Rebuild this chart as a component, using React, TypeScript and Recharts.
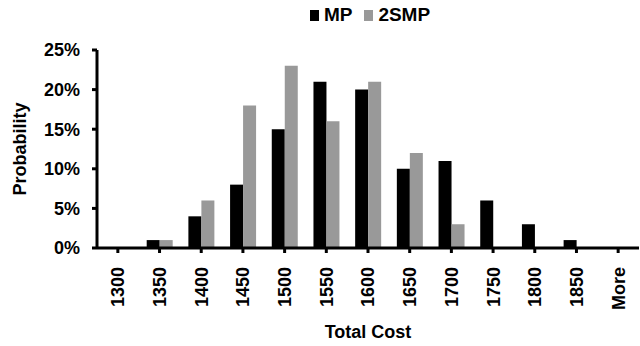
import React from "react";
import { BarChart, Bar, XAxis, YAxis, Legend } from "recharts";

const categories = ["1300", "1350", "1400", "1450", "1500", "1550", "1600", "1650", "1700", "1750", "1800", "1850", "More"];
const mpValues = [0, 0.01, 0.04, 0.08, 0.15, 0.21, 0.2, 0.1, 0.11, 0.06, 0.03, 0.01, 0];
const smpValues = [0, 0.01, 0.06, 0.18, 0.23, 0.16, 0.21, 0.12, 0.03, 0, 0, 0, 0];
const yTicks = [0, 0.05, 0.1, 0.15, 0.2, 0.25];
const seriesNames = ["MP", "2SMP"];
const seriesColors = ["#000", "#999"];

const data = categories.map((c, i) => ({ cat: c, MP: mpValues[i], "2SMP": smpValues[i] }));

const FONT = "'Liberation Sans', Arial, sans-serif";

const XTick = (props: any) => {
  const { x, y, payload } = props;
  return (
    <text
      x={x}
      y={y + 12}
      transform={`rotate(-90, ${x}, ${y + 12})`}
      textAnchor="end"
      dy="0.36em"
      fontFamily={FONT}
      fontWeight="bold"
      fontSize={18}
      fill="#000"
    >
      {payload.value}
    </text>
  );
};

const LegendContent = () => (
  <div style={{ display: "flex", justifyContent: "center", alignItems: "center", fontFamily: FONT, fontWeight: "bold", fontSize: 19, height: 22 }}>
    {seriesNames.map((n, i) => (
      <span key={n} style={{ display: "inline-flex", alignItems: "center", marginRight: i === 0 ? 12 : 0 }}>
        <span style={{ display: "inline-block", width: 9, height: 11, background: seriesColors[i], marginRight: 5 }} />
        <span>{n}</span>
      </span>
    ))}
  </div>
);

export default function App() {
  return (
    <div style={{ position: "absolute", left: 0, top: 0, background: "#fff" }}>
      <BarChart
        width={640}
        height={346}
        data={data}
        margin={{ top: 28, right: 1, left: 0, bottom: 0 }}
        barCategoryGap={8}
        barGap={0}
      >
        <Legend
          verticalAlign="top"
          align="center"
          content={<LegendContent />}
          wrapperStyle={{ top: 4, left: 100, width: 540 }}
        />
        <XAxis
          dataKey="cat"
          interval={0}
          height={98}
          tick={<XTick />}
          axisLine={{ stroke: "#000", strokeWidth: 3 }}
          tickLine={{ stroke: "#000", strokeWidth: 3 }}
          tickSize={5}
          label={{
            value: "Total Cost",
            position: "insideBottom",
            offset: 8,
            style: { fontFamily: FONT, fontWeight: "bold", fontSize: 18, fill: "#000" },
          }}
        />
        <YAxis
          width={97}
          domain={[0, 0.25]}
          ticks={yTicks}
          interval={0}
          tickFormatter={(v: number) => `${Math.round(v * 100)}%`}
          tick={{ fontFamily: FONT, fontWeight: "bold", fontSize: 18, fill: "#000" }}
          axisLine={{ stroke: "#000", strokeWidth: 3 }}
          tickLine={{ stroke: "#000", strokeWidth: 3 }}
          tickSize={5}
          tickMargin={12}
          label={{
            value: "Probability",
            angle: -90,
            position: "insideLeft",
            offset: 20,
            style: { fontFamily: FONT, fontWeight: "bold", fontSize: 18, fill: "#000", textAnchor: "middle" },
          }}
        />
        <Bar dataKey="MP" fill={seriesColors[0]} isAnimationActive={false} />
        <Bar dataKey="2SMP" fill={seriesColors[1]} isAnimationActive={false} />
      </BarChart>
    </div>
  );
}
